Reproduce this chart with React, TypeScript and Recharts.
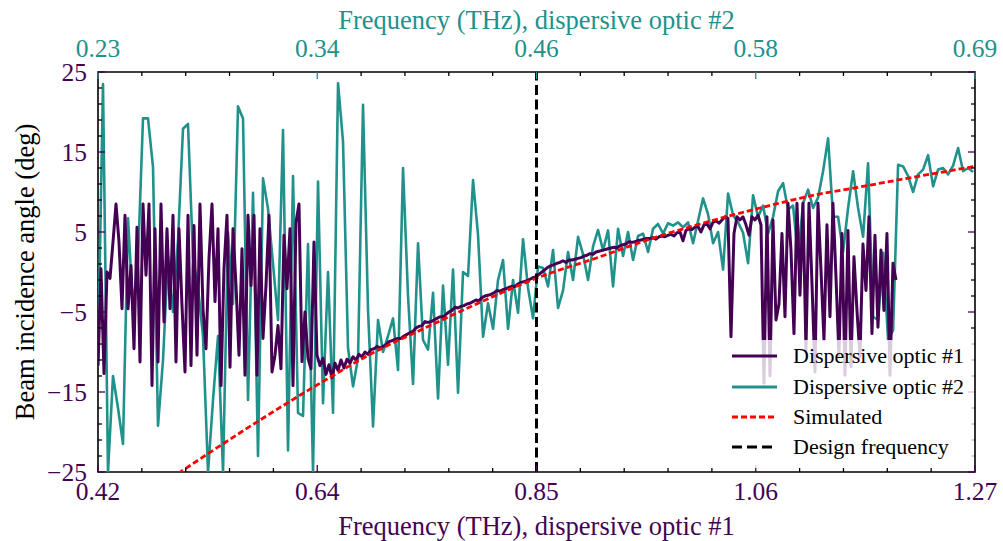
import {
  Legend, Line, LineChart, ReferenceArea, ReferenceLine, XAxis, YAxis,
} from 'recharts';

const PURPLE = '#440154';
const TEAL = '#21918c';
const RED = '#ff0000';
const SERIF = '"Liberation Serif", "Times New Roman", "DejaVu Serif", serif';

// chart frame (plot area is 877 x 400), drawn from the page's top-left corner
const W = 1003;
const H = 541;
const MARGIN = { top: 0, right: 28, bottom: 0, left: 0 };
const TOP_H = 72;
const BOTTOM_H = 69;
const LEFT_W = 98;
const PLOT_RIGHT = W - MARGIN.right;
const PLOT_TOP = MARGIN.top + TOP_H;
const PLOT_BOTTOM = H - MARGIN.bottom - BOTTOM_H;
const TICK_FS = 25.5;
const TITLE_FS = 26.5;
const MAJOR = 7;
const MINOR = 4;

const f1Range = [0.42, 1.27];
const f2Range = [0.23, 0.69];
const yRange = [-25, 25];
const bottomLabels = ['0.42', '0.64', '0.85', '1.06', '1.27'];
const topLabels = ['0.23', '0.34', '0.46', '0.58', '0.69'];
const designFreq = 0.845;

// dispersive optic #1, evenly spaced samples (bottom axis, THz)
const optic1Start = 0.42;
const optic1End = 1.1934;
const optic1 = [
  -11.7, 0.4, -12.7, 0, -0.8, 3.75, 8.5, 3.75, -4.6, 7.1,
  -4.6, 0.8, -9.6, 5.6, -11.25, 8.5, -0.4, 8.5, -14.2, 5.4,
  -11.25, 8.5, -6.25, 5.4, -4.6, 7.1, -11.25, 5.4, -4.2, -12.5,
  7.1, -11.7, 5.8, -10.4, 8.5, -4.6, -9.6, 1.7,
  8.5, -3.7, 5.4, -14.2, 0.4, 7.1, -11.9, 5.4, -1.7, -10.4,
  2.9, -12.9, 7.1, -1.7, 7.1, -12.9, 5.4, -8.3, -1.7, 7.1,
  -12.5, -10.4, -6.7, -12.1, 4.6, -2.1, 5.4, -14.2, 6.2, 8.5,
  -11.2, -5, -10.8, -12.1, 3.75, -10.4, -11.7, -10.8,
  -12.8, -11.6, -13.2, -11.4, -12.3, -11.0, -12.0, -10.9, -11.4, -10.6,
  -11.0, -10.3, -10.6, -10.0, -10.3, -9.7, -9.6, -9.3, -9.5, -9.3,
  -9.1, -8.7, -8.6, -8.4, -8.3, -8.3, -8.0, -7.8, -7.6, -7.4,
  -7.0, -6.8, -6.7, -6.2, -6.3, -6.2, -6.0, -5.8, -5.6, -5.6,
  -5.3, -5.0, -4.8, -4.4, -4.5, -4.3, -4.2, -4.0, -3.9, -3.7,
  -3.5, -3.6, -3.2, -3.0, -2.9, -2.8, -2.6, -2.3, -2.4, -2.2,
  -2.1, -1.9, -1.8, -1.8, -1.5, -1.3, -1.2, -1.1, -0.9, -0.7,
  -0.6,
  -0.3, 0.0, 0.3, 0.6, 0.8, 0.9, 1.1, 1.2, 1.4, 1.2,
  1.5, 1.5, 1.6, 1.7, 1.8, 2.0, 2.1, 2.3, 2.2, 2.5,
  2.6, 2.7, 2.8, 2.9, 3.0, 3.1, 3.0, 3.3, 3.4, 3.5,
  3.8, 3.7, 3.8, 3.9, 4.0, 4.1, 4.2, 4.2, 4.3, 4.1,
  4.4, 4.5, 4.4, 4.6, 4.7, 4.5, 4.9, 5.0, 3.9, 5.2,
  5.4, 5.3, 5.6, 5.7, 5.0, 5.9, 6.0, 5.4, 6.2, 6.4,
  6.1,
  6.5, 6.9, 6.7, -8.1, 4.8, 6.9, 6.5, 6.9, 5.9, 4.6,
  6.9, 6.5, 7.1, 5.9, -13.9, 6.9, -13.0, 6.5, -6.0, -4.0,
  4.8, -5.6, 8.6, 2.75, -7.7, 8.6, -2.9, 8.6, -9.75, 8.6,
  -1.4, -12.5, 8.6, 0.3, -8.5, 5.9, -5.6, 8.6, -0.6, -10.6,
  4.8, -12.9, 5.2, -11.8, 1.9, -4.8, -10.6, 3.5, -2.3, 6.9,
  -7.7, 4.6, -6.9, 2.75, -4.8, 4.8, -12.9, 1.1, -1.0,
];

// dispersive optic #2, evenly spaced samples (top axis, THz)
const optic2Start = 0.23;
const optic2End = 0.689;
const optic2 = [
  -11, 23.5, -25, -13, -17, -21.5, 6.7, -4.6, 1.5, 19.2,
  19.2, 13.1, -19.2, -11, 2, -5, 4, 17.9, 18.5, 1.7,
  -2, -8, -25, -16, -8, -25, 5, -4, 20.7, 19.2,
  -16, 9.9, -23, 11.7, 7.9, 1.0, -6, 17.75, -22.3, 12.0,
  -17.6, -18, 3.5, -25, 11.3, -16.4, 0.0, -17.6, 23.6, 16.3,
  -9.5, -14.3, -10.8, 20.9, -4.8, -19.3, -6, -10, -8, -5.8,
  -12.25, 13.0, -3, -14.0, 3.6, -8.5, -9.7, -2.6, -15.8, -1.7,
  -11.6, 0.3, -15.1, 0.0, -0.5, 11.5, 4.6, -8.1, -3.9, -7.1,
  -1, 1.5, -7.1, -1, -5.1, 4.1, -2, -5.8, 0.7, 0.5,
  -1.8, 2.75, -4.5, -2.3, 2.5, -1.0, 4.4, 2.2, -1.0, 3.2,
  5.25, 2.7, 5.2, -1.8, 5.4, 2.0, 5.0, 1.5, 4.5, 4.8,
  2.5, 5.4, 6.0, 4.8, 6.1, 5.8, 6.2, 5.6, 6.2, 3.6,
  6.4, 9.2, 7.2, 3.6, 5.0, 0.3, 9.8, 7.1, 6.2, 4.9,
  1.1, 9.6, 6.9, 8.3, 4.8, 6.9, 10.1, 11.1, 7.8, 8.3,
  1.9, 8.6, 10.3, 8.0, 9.3, 12.6, 16.7, 6.9, 6.9, 2.5,
  8.0, 12.6, 8.0, 4.4, 13.6, -5.6, -6.0, 2.4, -8.5, -7.3,
  13.4, 13.2, 12.0, 10.0, 12.2, 12.8, 14.6, 10.7, 12.8, 13.0,
  12.2, 13.3, 15.5, 12.6, 13.0, 12.5,
];

// simulated incidence angle (bottom axis)
const simFreq = [0.4975, 0.5673, 0.6352, 0.6836, 0.7369, 0.7902, 0.8455, 0.9065, 0.9501, 1.0034, 1.0616, 1.11, 1.1614, 1.2166, 1.27];
const simAngle = [-25.2, -19.3, -13.9, -10.3, -7.0, -3.8, -0.75, 1.9, 3.9, 6.0, 8.0, 9.5, 10.7, 12.0, 13.2];

const legendItems = [
  { name: 'Dispersive optic #1', color: PURPLE, dash: undefined },
  { name: 'Dispersive optic #2', color: TEAL, dash: undefined },
  { name: 'Simulated', color: RED, dash: '6 3' },
  { name: 'Design frequency', color: '#000', dash: '10 5' },
];

const toSeries = (vals: number[], start: number, end: number) =>
  vals.map((v, i) => ({ f: start + ((end - start) * i) / (vals.length - 1), v }));

const optic1Data = toSeries(optic1, optic1Start, optic1End);
const optic2Data = toSeries(optic2, optic2Start, optic2End);
const simData = simFreq.map((f, i) => ({ f, v: simAngle[i] }));

const ticksOf = (r: number[], n: number) =>
  Array.from({ length: n + 1 }, (_, i) => r[0] + ((r[1] - r[0]) * i) / n);
const bottomTicks = ticksOf(f1Range, 20);
const topTicks = ticksOf(f2Range, 20);
const yTicks = ticksOf(yRange, 25);

const fmtAngle = (v: number) => (v < 0 ? '\u2212' : '') + Math.abs(Math.round(v));

function BottomTick({ x, y, index }: any) {
  const major = index % 5 === 0;
  return (
    <g>
      <line x1={x} x2={x} y1={y} y2={y - (major ? MAJOR : MINOR)} stroke={major ? PURPLE : '#000'} strokeWidth={1.3} />
      {major && (
        <text x={x} y={y + 28} textAnchor="middle" fill={PURPLE} fontSize={TICK_FS} fontFamily={SERIF}>
          {bottomLabels[index / 5]}
        </text>
      )}
    </g>
  );
}

function TopTick({ x, y, index }: any) {
  const major = index % 5 === 0;
  return (
    <g>
      <line x1={x} x2={x} y1={y} y2={y + (major ? MAJOR : MINOR)} stroke={major ? TEAL : '#000'} strokeWidth={1.3} />
      {major && (
        <text x={x} y={y - 15} textAnchor="middle" fill={TEAL} fontSize={TICK_FS} fontFamily={SERIF}>
          {topLabels[index / 5]}
        </text>
      )}
    </g>
  );
}

function LeftTick({ x, y, index, payload }: any) {
  const major = index % 5 === 0;
  const len = major ? MAJOR : MINOR;
  const c = major ? PURPLE : '#000';
  return (
    <g>
      <line x1={x} x2={x + len} y1={y} y2={y} stroke={c} strokeWidth={1.3} />
      <line x1={PLOT_RIGHT - len} x2={PLOT_RIGHT} y1={y} y2={y} stroke={c} strokeWidth={1.3} />
      {major && (
        <text x={x - 11} y={y + 9} textAnchor="end" fill={PURPLE} fontSize={TICK_FS} fontFamily={SERIF}>
          {fmtAngle(payload.value)}
        </text>
      )}
    </g>
  );
}

const midX = (LEFT_W + PLOT_RIGHT) / 2;
const midY = (PLOT_TOP + PLOT_BOTTOM) / 2;

const BottomTitle = () => (
  <text x={midX} y={PLOT_BOTTOM + 63} textAnchor="middle" fill={PURPLE} fontSize={TITLE_FS} fontFamily={SERIF}>
    Frequency (THz), dispersive optic #1
  </text>
);
const TopTitle = () => (
  <text x={midX} y={PLOT_TOP - 43} textAnchor="middle" fill={TEAL} fontSize={TITLE_FS} fontFamily={SERIF}>
    Frequency (THz), dispersive optic #2
  </text>
);
const YTitle = () => (
  <text x={34} y={midY} transform={`rotate(-90, 34, ${midY})`} textAnchor="middle" fill="#000" fontSize={TITLE_FS} fontFamily={SERIF}>
    Beam incidence angle (deg)
  </text>
);

function LegendBox() {
  return (
    <div style={{
      width: 250, height: 128, paddingTop: 1, boxSizing: 'border-box',
      background: 'rgba(255,255,255,0.8)', fontFamily: SERIF, fontSize: 22, color: '#000',
    }}>
      {legendItems.map((it) => (
        <div key={it.name} style={{ display: 'flex', alignItems: 'center', height: 30.4, whiteSpace: 'nowrap' }}>
          <svg width={45} height={6} style={{ marginLeft: 8, marginRight: 16, display: 'block' }}>
            <line x1={0} x2={45} y1={3} y2={3} stroke={it.color} strokeWidth={3} strokeDasharray={it.dash} />
          </svg>
          <span>{it.name}</span>
        </div>
      ))}
    </div>
  );
}

export default function App() {
  return (
    // pinned to the page corner, outside the body margin
    <div style={{ position: 'absolute', left: 0, top: 0, width: W, height: H }}>
      <LineChart width={W} height={H} margin={MARGIN}>
        <XAxis
          xAxisId="bottom" dataKey="f" type="number" orientation="bottom" domain={f1Range}
          ticks={bottomTicks} interval={0} height={BOTTOM_H} allowDataOverflow
          axisLine={false} tickLine={false} tickSize={0} tickMargin={0} tick={(p: any) => <BottomTick {...p} />}
          label={{ content: () => <BottomTitle /> }}
        />
        <XAxis
          xAxisId="top" dataKey="f" type="number" orientation="top" domain={f2Range}
          ticks={topTicks} interval={0} height={TOP_H} allowDataOverflow
          axisLine={false} tickLine={false} tickSize={0} tickMargin={0} tick={(p: any) => <TopTick {...p} />}
          label={{ content: () => <TopTitle /> }}
        />
        <YAxis
          type="number" domain={yRange} ticks={yTicks} interval={0} width={LEFT_W} allowDataOverflow
          axisLine={false} tickLine={false} tickSize={0} tickMargin={0} tick={(p: any) => <LeftTick {...p} />}
          label={{ content: () => <YTitle /> }}
        />
        <Line
          xAxisId="top" data={optic2Data} dataKey="v" type="linear" stroke={TEAL} strokeWidth={2.6}
          strokeLinejoin="round" dot={false} isAnimationActive={false} name="Dispersive optic #2"
        />
        <Line
          xAxisId="bottom" data={optic1Data} dataKey="v" type="linear" stroke={PURPLE} strokeWidth={3}
          strokeLinejoin="round" dot={false} isAnimationActive={false} name="Dispersive optic #1"
        />
        <Line
          xAxisId="bottom" data={simData} dataKey="v" type="monotone" stroke={RED} strokeWidth={2.8}
          strokeDasharray="6 3" dot={false} isAnimationActive={false} name="Simulated"
        />
        <ReferenceLine xAxisId="bottom" x={designFreq} stroke="#000" strokeWidth={3} strokeDasharray="10 4.5" />
        <ReferenceArea
          xAxisId="bottom" x1={f1Range[0]} x2={f1Range[1]} y1={yRange[0]} y2={yRange[1]}
          fill="none" stroke="#000" strokeWidth={1.6} ifOverflow="visible"
        />
        <Legend
          layout="vertical" verticalAlign="middle" align="center"
          wrapperStyle={{ left: 724, top: 340, width: 250, height: 128 }}
          content={() => <LegendBox />}
        />
      </LineChart>
    </div>
  );
}
